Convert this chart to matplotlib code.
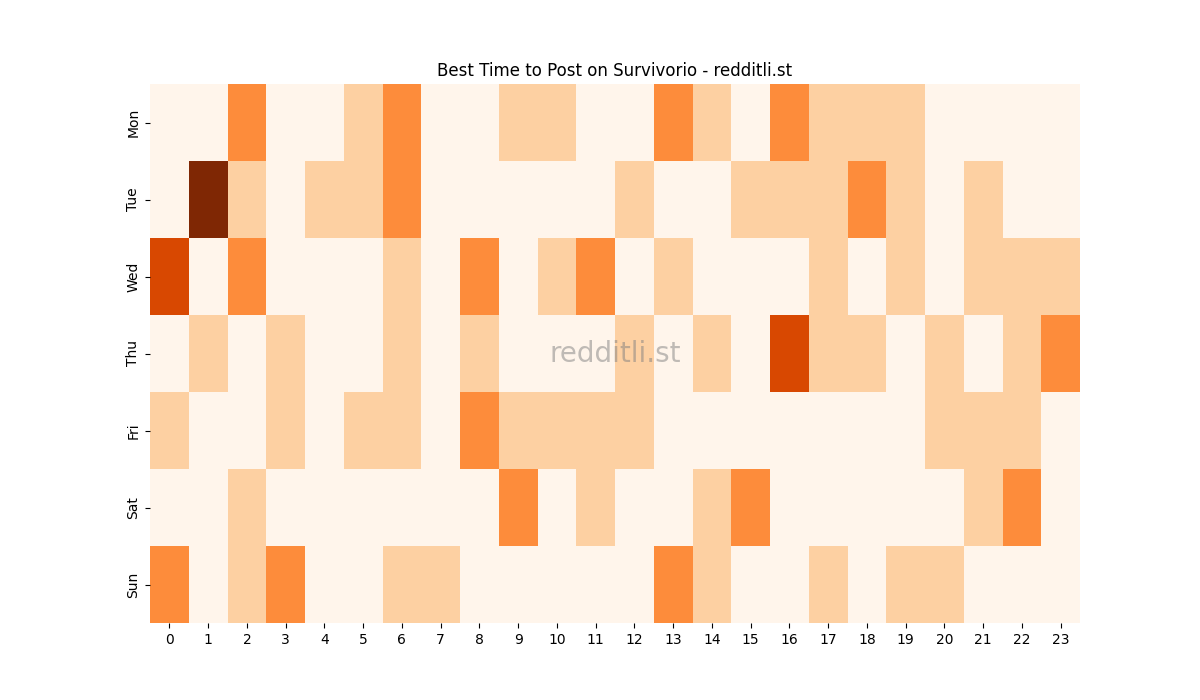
import matplotlib
matplotlib.use("Agg")
import matplotlib.pyplot as plt
import seaborn as sns
import numpy as np

days = ["Mon", "Tue", "Wed", "Thu", "Fri", "Sat", "Sun"]
hours = list(range(24))

mon = [0,0,2,0,0,1,2,0,0,1,1,0,0,2,1,0,2,1,1,1,0,0,0,0]
tue = [0,4,1,0,1,1,2,0,0,0,0,0,1,0,0,1,1,1,2,1,0,1,0,0]
wed = [3,0,2,0,0,0,1,0,2,0,1,2,0,1,0,0,0,1,0,1,0,1,1,1]
thu = [0,1,0,1,0,0,1,0,1,0,0,0,1,0,1,0,3,1,1,0,1,0,1,2]
fri = [1,0,0,1,0,1,1,0,2,1,1,1,1,0,0,0,0,0,0,0,1,1,1,0]
sat = [0,0,1,0,0,0,0,0,0,2,0,1,0,0,1,2,0,0,0,0,0,1,2,0]
sun = [2,0,1,2,0,0,1,1,0,0,0,0,0,2,1,0,0,1,0,1,1,0,0,0]

data = np.array([mon, tue, wed, thu, fri, sat, sun])

fig = plt.figure(figsize=(12, 7), dpi=100)
ax = fig.add_subplot(111)
sns.heatmap(data, cmap="Oranges", vmin=0, vmax=4, cbar=False, ax=ax,
            xticklabels=hours, yticklabels=days)
ax.set_title("Best Time to Post on Survivorio - redditli.st")
ax.text(0.5, 0.5, "redditli.st", transform=ax.transAxes, ha="center",
        va="center", fontsize=20, color="gray", alpha=0.5)
plt.savefig("out.png")
